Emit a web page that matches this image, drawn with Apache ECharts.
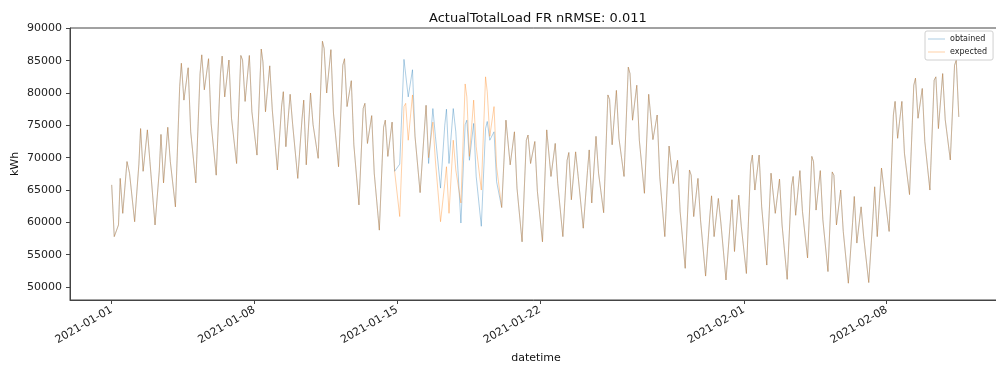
<!DOCTYPE html>
<html>
<head>
<meta charset="utf-8">
<script src="https://cdn.jsdelivr.net/npm/echarts@6/dist/echarts.min.js"></script>
<style>
  html, body { margin: 0; padding: 0; background: #fff; }
  #chart { width: 996px; height: 367px; }
</style>
</head>
<body>
<div id="chart"></div>
<script>
// samples per day (hour of day), first point at 2021-01-01 00:00
const sampleHours = [3, 8, 10, 13, 18, 21];
const startValue = 65800;

// expected load, one row per day starting 2021-01-01
const expected = [
  57800, 59600, 66800, 61400, 69400, 67600,
  60100, 69000, 74500, 67900, 74300, 69400,
  59600, 68000, 73600, 66100, 74700, 69400,
  62400, 81000, 84600, 78900, 83900, 74000,
  66100, 83000, 85900, 80500, 85300, 75300,
  67300, 83000, 85700, 79400, 85100, 76100,
  69100, 85800, 85100, 78700, 85800, 77100,
  70400, 86800, 84800, 77100, 84200, 77400,
  68100, 78000, 80200, 71700, 79800, 75100,
  66800, 76000, 78900, 68900, 80000, 75100,
  69900, 88000, 86900, 80000, 86700, 76900,
  68600, 84300, 85300, 77900, 81900, 72000,
  62700, 77600, 78400, 72200, 76500, 67600,
  58800, 74700, 75800, 70200, 75500, 67900,
  60900, 77900, 78400, 72700, 79700, 73300,
  64600, 74300, 78100, 70000, 75500, 69500,
  60100, 66000, 68600, 61400, 72700, 68100,
  63000, 81400, 79400, 70200, 78900, 71700,
  65000, 82500, 80200, 73300, 77900, 68600,
  62300, 75800, 76100, 68900, 74000, 65300,
  57000, 72700, 73500, 69100, 72500, 64800,
  57000, 74300, 74400, 67100, 72200, 66000,
  57800, 69600, 70800, 63500, 70900, 67100,
  59100, 68000, 71200, 63000, 73300, 67600,
  61500, 79700, 79000, 72000, 80400, 73000,
  67100, 84000, 83000, 75800, 81200, 72700,
  64500, 79800, 80000, 72800, 76600, 67100,
  57800, 71800, 71600, 66000, 69600, 61700,
  52900, 68100, 67300, 60900, 66800, 60400,
  51700, 61000, 64100, 57800, 63700, 59900,
  51100, 60000, 63500, 55500, 64200, 59400,
  52100, 68900, 70400, 65000, 70400, 62400,
  53400, 67600, 67700, 61400, 66700, 59600,
  51200, 65500, 67100, 61100, 68000, 61700,
  54500, 70200, 69400, 61900, 68000, 60400,
  52400, 67800, 67300, 59600, 65000, 58600,
  50600, 60000, 64000, 56800, 62400, 57800,
  50700, 61000, 65500, 57800, 68400, 65000,
  58600, 76600, 78700, 73000, 78700, 70700,
  64300, 81200, 82300, 76100, 80700, 72500,
  65000, 82000, 82500, 74500, 83000, 75900,
  69650, 84300, 85100, 76300
];

// obtained differs from expected only on 2021-01-15 .. 2021-01-19
const obtainedFromDay = 14;
const obtainedDiff = [
  69000, 85200, 85000, 79400, 83600, 73300,
  64600, 74300, 78100, 69100, 77600, 73300,
  65300, 75000, 77500, 69100, 77600, 74000,
  59900, 75100, 75800, 69600, 75300, 67100,
  59400, 74500, 75600, 72700, 74000, 66300
];

// x ticks in days since 2021-01-01
const xTickDays = [0, 7, 14, 21, 31, 38];
const xTickLabels = ['2021-01-01', '2021-01-08', '2021-01-15', '2021-01-22', '2021-02-01', '2021-02-08'];
const yTicks = [50000, 55000, 60000, 65000, 70000, 75000, 80000, 85000, 90000];

function toPoints(values) {
  const pts = [[0, startValue]];
  values.forEach((v, i) => {
    const day = Math.floor(i / sampleHours.length);
    const h = sampleHours[i % sampleHours.length];
    pts.push([day + h / 24, v]);
  });
  return pts;
}

const obtained = expected.slice();
obtainedDiff.forEach((v, i) => {
  obtained[obtainedFromDay * sampleHours.length + i] = v;
});

const font = 'DejaVu Sans';
const chart = echarts.init(document.getElementById('chart'));
chart.setOption({
  animation: false,
  backgroundColor: '#fff',
  textStyle: { fontFamily: font },
  title: {
    text: 'ActualTotalLoad FR nRMSE: 0.011',
    left: 424,
    top: 7,
    textStyle: { fontFamily: font, fontSize: 13, fontWeight: 'normal', color: '#111' }
  },
  legend: {
    data: ['obtained', 'expected'],
    orient: 'vertical',
    left: 925,
    top: 31,
    icon: 'rect',
    itemWidth: 17,
    itemHeight: 1,
    itemGap: 5,
    padding: [4, 6, 4, 3],
    borderColor: '#d0d0d0',
    borderWidth: 1,
    borderRadius: 2,
    textStyle: { fontFamily: font, fontSize: 8, color: '#222' }
  },
  grid: {
    show: true,
    left: 70,
    right: -6,
    top: 28,
    bottom: 67,
    outerBoundsMode: 'none',
    containLabel: false,
    borderColor: '#444',
    borderWidth: 1
  },
  xAxis: {
    type: 'value',
    min: -2.045,
    max: 43.66,
    name: 'datetime',
    nameLocation: 'middle',
    nameGap: 53,
    nameMoveOverlap: false,
    nameTextStyle: { fontFamily: font, fontSize: 11, color: '#111' },
    splitLine: { show: false },
    axisLine: { show: true, onZero: false, lineStyle: { color: '#444' } },
    axisTick: { customValues: xTickDays, length: 4, lineStyle: { color: '#444' } },
    axisLabel: {
      customValues: xTickDays,
      rotate: 30,
      margin: 9,
      fontFamily: font,
      fontSize: 11,
      color: '#222',
      formatter: function (v) {
        const i = xTickDays.findIndex(d => Math.abs(d - v) < 1e-6);
        return i >= 0 ? xTickLabels[i] : '';
      }
    }
  },
  yAxis: {
    type: 'value',
    min: 48000,
    max: 90050,
    name: 'kWh',
    nameLocation: 'middle',
    nameGap: 49,
    nameMoveOverlap: false,
    nameTextStyle: { fontFamily: font, fontSize: 11, color: '#111' },
    splitLine: { show: false },
    axisLine: { show: true, onZero: false, lineStyle: { color: '#444' } },
    axisTick: { customValues: yTicks, length: 4, lineStyle: { color: '#444' } },
    axisLabel: {
      customValues: yTicks,
      margin: 8,
      fontFamily: font,
      fontSize: 11,
      color: '#222',
      formatter: function (v) { return String(v); }
    }
  },
  series: [
    {
      name: 'obtained',
      type: 'line',
      showSymbol: false,
      data: toPoints(obtained),
      color: 'rgba(31,119,180,0.36)',
      lineStyle: { width: 1, color: 'rgba(31,119,180,0.36)' }
    },
    {
      name: 'expected',
      type: 'line',
      showSymbol: false,
      data: toPoints(expected),
      color: 'rgba(255,127,14,0.36)',
      lineStyle: { width: 1, color: 'rgba(255,127,14,0.36)' }
    }
  ]
});
</script>
</body>
</html>
